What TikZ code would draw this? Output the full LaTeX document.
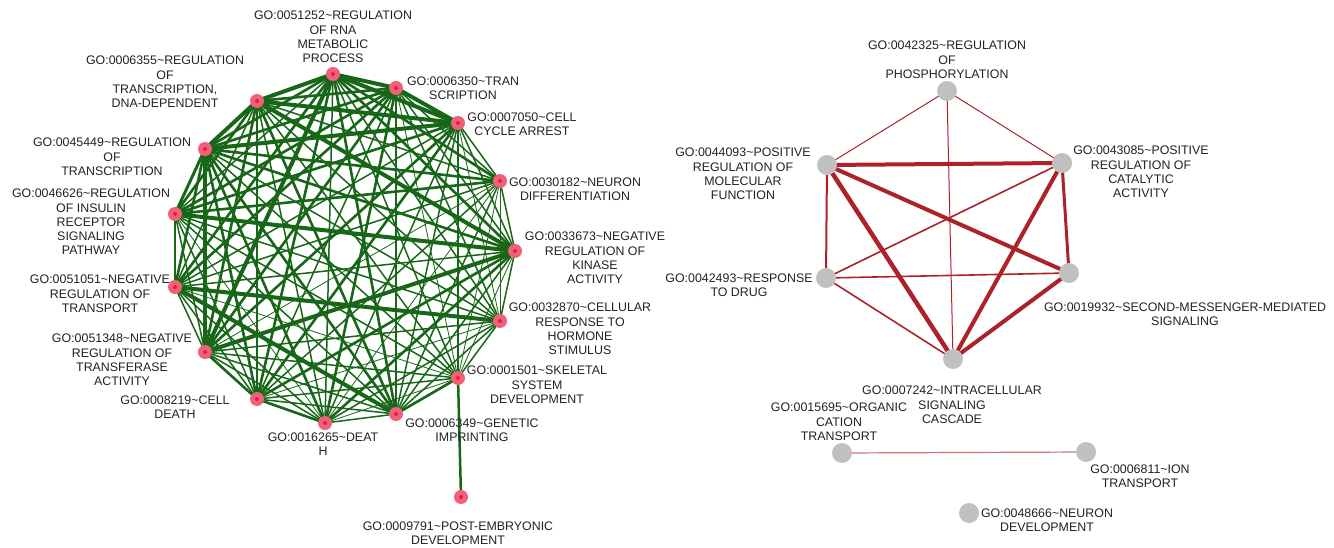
\documentclass[tikz,border=0pt]{standalone}
\usepackage{fontspec}
\setmainfont{Liberation Sans}
\usetikzlibrary{backgrounds}
\definecolor{edgegreen}{RGB}{24,102,24}
\definecolor{edgered}{RGB}{172,34,40}
\definecolor{edgepale}{RGB}{212,112,112}
\definecolor{pinknode}{RGB}{242,96,120}
\definecolor{pinkdot}{RGB}{220,32,80}
\definecolor{graynode}{RGB}{192,192,192}
\definecolor{labtext}{RGB}{34,34,34}
\newcommand{\gotil}{\textasciitilde}
\begin{document}
\begin{tikzpicture}[x=1pt,y=-1pt,
  pk/.style={circle,fill=pinknode,minimum size=14pt,inner sep=0pt,
    path picture={\fill[pinkdot] (path picture bounding box.center) circle (2pt);}},
  gy/.style={circle,fill=graynode,minimum size=20pt,inner sep=0pt},
  lab/.style={font=\fontsize{12.4}{14.3}\selectfont,align=center,inner sep=0pt,text=labtext},
  ge/.style={draw=edgegreen,line cap=round},
  re/.style={draw=edgered,line cap=round}]
\useasboundingbox (0,0) rectangle (1334,548);
% ---- left graph nodes
\node[pk] (A) at (333,74) {};
\node[pk] (B) at (396,88) {};
\node[pk] (C) at (458,123) {};
\node[pk] (D) at (500,181) {};
\node[pk] (E) at (515,251) {};
\node[pk] (F) at (500,321) {};
\node[pk] (G) at (458,378) {};
\node[pk] (H) at (396,414) {};
\node[pk] (I) at (325,423) {};
\node[pk] (J) at (257,399) {};
\node[pk] (K) at (205,352) {};
\node[pk] (L) at (175,287) {};
\node[pk] (M) at (175,214) {};
\node[pk] (N) at (205,149) {};
\node[pk] (O) at (257,101) {};
\node[pk] (P) at (461,497) {};
% ---- left labels
\node[lab] (lA) at (333,37) {GO:0051252\gotil REGULATION\\OF RNA\\METABOLIC\\PROCESS};
\node[lab] (lB) at (463,88) {GO:0006350\gotil TRAN\\SCRIPTION};
\node[lab] (lC) at (522,124) {GO:0007050\gotil CELL\\CYCLE ARREST};
\node[lab] (lD) at (575,189) {GO:0030182\gotil NEURON\\DIFFERENTIATION};
\node[lab] (lE) at (595,258) {GO:0033673\gotil NEGATIVE\\REGULATION OF\\KINASE\\ACTIVITY};
\node[lab] (lF) at (580,329) {GO:0032870\gotil CELLULAR\\RESPONSE TO\\HORMONE\\STIMULUS};
\node[lab] (lG) at (537,385) {GO:0001501\gotil SKELETAL\\SYSTEM\\DEVELOPMENT};
\node[lab] (lH) at (472,430) {GO:0006349\gotil GENETIC\\IMPRINTING};
\node[lab] (lI) at (323,444) {GO:0016265\gotil DEAT\\H};
\node[lab] (lJ) at (175,407) {GO:0008219\gotil CELL\\DEATH};
\node[lab] (lK) at (122,360) {GO:0051348\gotil NEGATIVE\\REGULATION OF\\TRANSFERASE\\ACTIVITY};
\node[lab] (lL) at (100,294) {GO:0051051\gotil NEGATIVE\\REGULATION OF\\TRANSPORT};
\node[lab] (lM) at (91,222) {GO:0046626\gotil REGULATION\\OF INSULIN\\RECEPTOR\\SIGNALING\\PATHWAY};
\node[lab] (lN) at (112,157) {GO:0045449\gotil REGULATION\\OF\\TRANSCRIPTION};
\node[lab] (lO) at (165,82) {GO:0006355\gotil REGULATION\\OF\\TRANSCRIPTION,\\DNA-DEPENDENT};
\node[lab] (lP) at (458,533) {GO:0009791\gotil POST-EMBRYONIC\\DEVELOPMENT};
% ---- right graph nodes
\node[gy] (PR) at (947,91) {};
\node[gy] (PMF) at (827,165) {};
\node[gy] (PCA) at (1062,163) {};
\node[gy] (RD) at (826,278) {};
\node[gy] (SMS) at (1069,273) {};
\node[gy] (ICS) at (953,359) {};
\node[gy] (OC) at (842,453) {};
\node[gy] (ION) at (1086,452) {};
\node[gy] (ND) at (969,513) {};
% ---- right labels
\node[lab] (lPR) at (947,60) {GO:0042325\gotil REGULATION\\OF\\PHOSPHORYLATION};
\node[lab] (lPMF) at (743,174) {GO:0044093\gotil POSITIVE\\REGULATION OF\\MOLECULAR\\FUNCTION};
\node[lab] (lPCA) at (1141,172) {GO:0043085\gotil POSITIVE\\REGULATION OF\\CATALYTIC\\ACTIVITY};
\node[lab] (lRD) at (739,285) {GO:0042493\gotil RESPONSE\\TO DRUG};
\node[lab] (lSMS) at (1185,314) {GO:0019932\gotil SECOND-MESSENGER-MEDIATED\\SIGNALING};
\node[lab] (lICS) at (952,405) {GO:0007242\gotil INTRACELLULAR\\SIGNALING\\CASCADE};
\node[lab] (lOC) at (839,422) {GO:0015695\gotil ORGANIC\\CATION\\TRANSPORT};
\node[lab] (lION) at (1140,476) {GO:0006811\gotil ION\\TRANSPORT};
\node[lab] (lND) at (1047,520) {GO:0048666\gotil NEURON\\DEVELOPMENT};
% ---- edges
\begin{pgfonlayer}{background}
\foreach \a/\b/\w in {A/B/4,B/C/4,C/D/1.5,D/E/1.5,E/F/1.5,F/G/1.5,G/H/2.6,H/I/1.5,I/J/2.6,J/K/2.6,K/L/1.5,L/M/2.6,M/N/3,N/O/4,O/A/4,
  A/C/4,B/D/1.5,C/E/1.5,D/F/0.8,E/G/0.8,F/H/1.5,G/I/0.8,H/J/1.5,I/K/1.5,J/L/1.5,K/M/1.5,L/N/2.6,M/O/2.6,N/A/2.6,O/B/2.6,
  N/C/4,N/B/2.6,N/D/2.6,N/E/2.6,N/F/1.5,N/G/1.5,N/H/2.6,N/I/2.6,N/J/2.6,N/K/4,
  O/C/4,O/D/1.5,O/E/4,O/F/1.5,O/G/1.5,O/H/2.6,O/I/1.5,O/J/2.6,O/K/2.6,O/L/1.5,
  A/D/2.6,A/E/2.6,A/F/1.5,A/G/1.5,A/H/2.6,A/I/1.5,A/J/2.6,A/K/4,A/L/2.6,A/M/1.5,
  B/E/1.5,B/F/1.5,B/G/0.8,B/H/1.5,B/I/2.6,B/J/1.5,B/K/2.6,B/L/2.6,B/M/2.6,
  C/F/0.8,C/G/1.5,C/H/1.5,C/I/1.5,C/J/2.6,C/K/2.6,C/L/1.5,C/M/2.6,
  D/G/0.8,D/H/1.5,D/I/0.8,D/J/1.5,D/K/0.8,D/L/1.5,D/M/2.6,
  E/H/1.5,E/I/2.6,E/J/2.6,E/K/4,E/L/1.5,E/M/4,
  F/I/1.5,F/J/0.8,F/K/1.5,F/L/4,F/M/1.5,
  G/J/1.5,G/K/1.5,G/L/0.8,G/M/1.5,
  H/K/1.5,H/L/4,H/M/1.5,
  I/L/1.5,I/M/0.8,
  J/M/1.5,
  G/P/2.5}
  {\draw[ge,line width=\w pt] (\a.center) -- (\b.center);}
\foreach \a/\b/\w in {PR/PMF/1,PR/PCA/1,PR/ICS/1,PMF/PCA/4,PMF/RD/2,PMF/SMS/4,PMF/ICS/4.5,
  PCA/RD/1.6,PCA/SMS/3,PCA/ICS/4,RD/SMS/1.6,RD/ICS/1.6,SMS/ICS/4}
  {\draw[re,line width=\w pt] (\a.center) -- (\b.center);}
\draw[draw=edgepale,line width=1.2pt] (OC.center) -- (ION.center);
\end{pgfonlayer}
\end{tikzpicture}
\end{document}
